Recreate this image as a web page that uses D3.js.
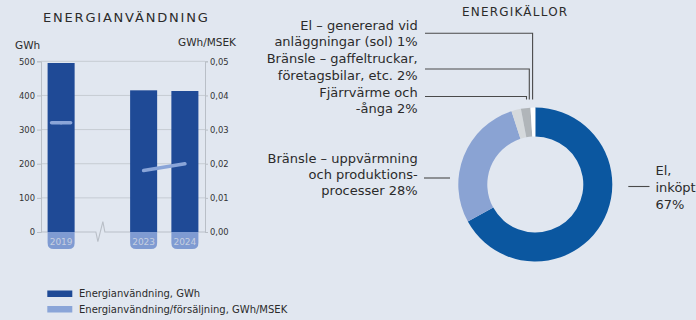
<!DOCTYPE html>
<html>
<head>
<meta charset="utf-8">
<script src="https://cdn.jsdelivr.net/npm/d3@7"></script>
<style>
  html, body { margin: 0; padding: 0; background: #e1e7f0; }
  svg { display: block; font-family: "DejaVu Sans", Verdana, sans-serif; }
</style>
</head>
<body>
<svg id="chart" width="696" height="320"></svg>
<script>
// ---- Energy use (bars, GWh) and energy per sales (line, GWh/MSEK) ----
const years = ["2019", "2023", "2024"];
const energyGWh = [495, 415, 413];
const energyPerSales = [0.032, 0.018, 0.020];
const gwhTicks = [0, 100, 200, 300, 400, 500];
const ratioTicks = [0, 0.01, 0.02, 0.03, 0.04, 0.05];

// ---- Energy sources (donut, %) ----
const sourceLabels = [
  ["El,", "inköpt", "67%"],
  ["Bränsle – uppvärmning", "och produktions-", "processer 28%"],
  ["Fjärrvärme och", "-ånga 2%"],
  ["Bränsle – gaffeltruckar,", "företagsbilar, etc. 2%"],
  ["El – genererad vid", "anläggningar (sol) 1%"]
];
const sourceShares = [67, 28, 2, 2, 1];
const sourceColors = ["#0b57a0", "#8aa3d3", "#d5d9dc", "#b0b5b9", "#ffffff"];

const legendItems = ["Energianvändning, GWh", "Energianvändning/försäljning, GWh/MSEK"];
const barColor = "#1f4a96";
const lineColor = "#8aa5d8";
const tabColor = "#7f9bd2";

const svg = d3.select("#chart");

// ================= Bar + line panel =================
const plot = { left: 41, right: 205, top: 61.3, bottom: 232 };
// slot between 2019 and 2023 holds the axis break
const slots = ["2019", "break", "2023", "2024"];
const x = d3.scaleBand().domain(slots).range([plot.left, plot.right])
  .paddingInner(0.345).paddingOuter(0.16);
const yL = d3.scaleLinear().domain([0, 500]).range([plot.bottom, plot.top]);
const yR = d3.scaleLinear().domain([0, 0.05]).range([plot.bottom, plot.top]);
const comma = v => d3.format(".2f")(v).replace(".", ",");

svg.append("text").attr("x", 43).attr("y", 22)
  .attr("font-size", 13).attr("letter-spacing", 1.8).attr("fill", "#2b2b2b")
  .text("ENERGIANVÄNDNING");
svg.append("text").attr("x", 15).attr("y", 49)
  .attr("font-size", 10.5).attr("fill", "#2b2b2b").text("GWh");
svg.append("text").attr("x", 178).attr("y", 45.5)
  .attr("font-size", 10.5).attr("fill", "#2b2b2b").text("GWh/MSEK");

// gridlines
svg.append("g").selectAll("line").data(gwhTicks.filter(d => d > 0)).join("line")
  .attr("x1", plot.left).attr("x2", plot.right)
  .attr("y1", d => yL(d)).attr("y2", d => yL(d))
  .attr("stroke", "#c6ccd3").attr("stroke-width", 1);

// axes
const axL = svg.append("g").attr("transform", `translate(${plot.left},0)`)
  .call(d3.axisLeft(yL).tickValues(gwhTicks).tickSize(4).tickPadding(2));
const axR = svg.append("g").attr("transform", `translate(${plot.right},0)`)
  .call(d3.axisRight(yR).tickValues(ratioTicks).tickFormat(comma).tickSize(3).tickPadding(2));
[axL, axR].forEach(g => {
  g.select(".domain").attr("stroke", "#b9bfc7");
  g.selectAll(".tick line").attr("stroke", "#b9bfc7");
  g.selectAll(".tick text").attr("font-size", 8.4).attr("fill", "#333")
    .attr("font-family", "'DejaVu Sans', Verdana, sans-serif");
});

// baseline with axis-break zigzag
const bx = x("break") + x.bandwidth() / 2 - 2;
const base = d3.path();
base.moveTo(plot.left, plot.bottom);
base.lineTo(bx - 4.5, plot.bottom);
base.lineTo(bx - 2.5, plot.bottom + 9.7);
base.lineTo(bx + 2.5, plot.bottom - 10.3);
base.lineTo(bx + 4.5, plot.bottom);
base.lineTo(plot.right, plot.bottom);
svg.append("path").attr("d", base.toString()).attr("fill", "none")
  .attr("stroke", "#b9bfc7").attr("stroke-width", 1.1);

// bars
const barData = years.map((y, i) => ({ year: y, v: energyGWh[i], r: energyPerSales[i] }));
svg.append("g").selectAll("rect").data(barData).join("rect")
  .attr("x", d => x(d.year)).attr("width", x.bandwidth())
  .attr("y", d => yL(d.v)).attr("height", d => yL(0) - yL(d.v))
  .attr("fill", barColor);

// year tabs under bars
const tabH = 17, rad = 6;
svg.append("g").selectAll("path").data(barData).join("path")
  .attr("d", d => {
    const x0 = x(d.year), w = x.bandwidth(), y0 = plot.bottom;
    return `M${x0},${y0}H${x0 + w}V${y0 + tabH - rad}Q${x0 + w},${y0 + tabH} ${x0 + w - rad},${y0 + tabH}` +
      `H${x0 + rad}Q${x0},${y0 + tabH} ${x0},${y0 + tabH - rad}Z`;
  })
  .attr("fill", tabColor);
svg.append("g").selectAll("text").data(barData).join("text")
  .attr("x", d => x(d.year) + x.bandwidth() / 2).attr("y", plot.bottom + 12.5)
  .attr("text-anchor", "middle").attr("font-size", 9).attr("fill", "#c6cfe0")
  .text(d => d.year);

// ratio line: consecutive years joined, isolated year shown as a short dash
const seq = slots.map(s => {
  const i = years.indexOf(s);
  return i < 0 ? null : { year: s, r: energyPerSales[i] };
});
const line = d3.line().defined(d => d !== null)
  .x(d => x(d.year) + x.bandwidth() / 2).y(d => yR(d.r));
svg.append("path").datum(seq).attr("d", line).attr("fill", "none")
  .attr("stroke", lineColor).attr("stroke-width", 3.6).attr("stroke-linecap", "round");
seq.forEach((d, i) => {
  if (d && !seq[i - 1] && !seq[i + 1]) {
    const cx = x(d.year) + x.bandwidth() / 2;
    svg.append("line").attr("x1", cx - 9.5).attr("x2", cx + 9.5)
      .attr("y1", yR(d.r)).attr("y2", yR(d.r))
      .attr("stroke", lineColor).attr("stroke-width", 3.6).attr("stroke-linecap", "round");
  }
});

// legend
const lg = svg.append("g").selectAll("g").data(legendItems).join("g")
  .attr("transform", (d, i) => `translate(47.3,${290.5 + i * 15.5})`);
lg.append("rect").attr("width", 25).attr("height", 6.5)
  .attr("fill", (d, i) => i === 0 ? barColor : lineColor);
lg.append("text").attr("x", 31.7).attr("y", 6.6).attr("font-size", 10)
  .attr("fill", "#2b2b2b").text(d => d);

// ================= Donut panel =================
const cx = 535.3, cy = 184.5, rOuter = 77, rInner = 48;
svg.append("text").attr("x", 462).attr("y", 15.5)
  .attr("font-size", 12).attr("letter-spacing", 1.2).attr("fill", "#2b2b2b")
  .text("ENERGIKÄLLOR");

const pie = d3.pie().sort(null).value(d => d)(sourceShares);
const arc = d3.arc().innerRadius(rInner).outerRadius(rOuter);
svg.append("g").attr("transform", `translate(${cx},${cy})`)
  .selectAll("path").data(pie).join("path")
  .attr("d", arc).attr("fill", (d, i) => sourceColors[i]);

// leader lines
const lead = "#4a4a4a";
const leaders = [
  `M628.3,186.5H649.5`,                                 // El, inköpt
  `M424,178H450`,                                       // Bränsle uppvärmning
  `M425,96.5H${cx - 8.8}V99.5`,                         // Fjärrvärme
  `M425,69H${cx - 6}V99.5`,                             // gaffeltruckar
  `M425,33.3H${cx - 2.7}V99.5`                          // sol
];
svg.append("g").selectAll("path").data(leaders).join("path")
  .attr("d", d => d).attr("fill", "none").attr("stroke", lead).attr("stroke-width", 1.1);

// labels
const lineH = 16.75;
const labelPos = [
  { x: 655.5, y: 175, anchor: "start" },
  { x: 417.7, y: 163.3, anchor: "end" },
  { x: 417.7, y: 96.7, anchor: "end" },
  { x: 417.7, y: 63.1, anchor: "end" },
  { x: 417.7, y: 29.5, anchor: "end" }
];
sourceLabels.forEach((lines, i) => {
  const p = labelPos[i];
  const t = svg.append("text").attr("x", p.x).attr("y", p.y)
    .attr("text-anchor", p.anchor).attr("font-size", 13).attr("fill", "#2b2b2b");
  lines.forEach((s, j) => t.append("tspan").attr("x", p.x).attr("y", p.y + j * (i === 1 ? 16 : lineH)).text(s));
});
</script>
</body>
</html>
